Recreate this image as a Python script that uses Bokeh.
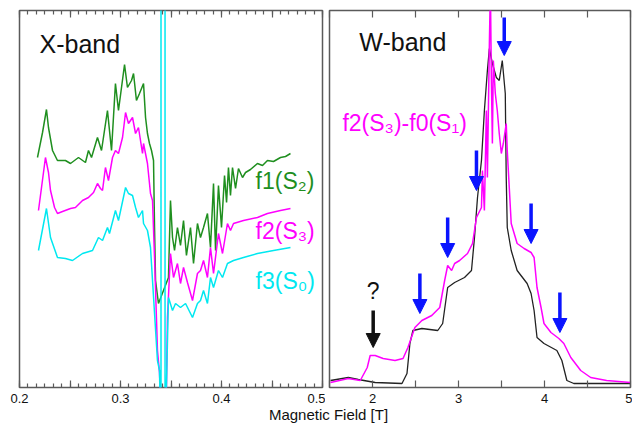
import numpy as np
from bokeh.plotting import figure
from bokeh.models import (LinearAxis, FixedTicker, Range1d, Label, Arrow,
                          NormalHead, ColumnDataSource, CustomJSTickFormatter)
from bokeh.layouts import row, column
from bokeh.embed import file_html
from bokeh.resources import INLINE

FONT = "Liberation Sans"
GREEN = "#1f8f1f"
MAGENTA = "#ff00ff"
CYAN = "#00e8f0"
BLUE = "#0a14ff"
FRAME = "#5a5a5a"

# ---------------- X-band data (field in T, signal in arbitrary units) -------------
xband_f1_field = [0.2178, 0.2228, 0.2267, 0.2287, 0.2327, 0.2376, 0.2455, 0.2505, 0.2584, 0.2653,
                  0.2683, 0.2713, 0.2772, 0.2812, 0.2871, 0.2911, 0.2950, 0.2980, 0.3040, 0.3069,
                  0.3109, 0.3129, 0.3158, 0.3188, 0.3228, 0.3248, 0.3267, 0.3287, 0.3307, 0.3327,
                  0.3337, 0.3347, 0.3376, 0.3475, 0.3495, 0.3515, 0.3535, 0.3564, 0.3594, 0.3624,
                  0.3653, 0.3693, 0.3723, 0.3762, 0.3792, 0.3822, 0.3861, 0.3891, 0.3921, 0.3941,
                  0.3970, 0.4000, 0.4030, 0.4050, 0.4069, 0.4089, 0.4109, 0.4139, 0.4168, 0.4208,
                  0.4238, 0.4287, 0.4356, 0.4406, 0.4455, 0.4515, 0.4584, 0.4634, 0.4683]
xband_f1_signal = [230, 255, 278, 260, 237, 227, 227, 224, 230, 225,
                   237, 230, 250, 237, 277, 237, 304, 277, 323, 300,
                   307, 314, 287, 294, 304, 270, 254, 244, 237, 227,
                   160, 107, 84, 110, 187, 150, 137, 160, 142, 167,
                   132, 160, 124, 164, 150, 160, 174, 140, 204, 137,
                   202, 160, 212, 185, 220, 192, 220, 199, 219, 210,
                   215, 218, 224, 222, 227, 226, 230, 231, 234]

xband_f2_field = [0.2188, 0.2218, 0.2257, 0.2287, 0.2307, 0.2347, 0.2376, 0.2426, 0.2505, 0.2554,
                  0.2624, 0.2683, 0.2733, 0.2772, 0.2802, 0.2822, 0.2851, 0.2881, 0.2921, 0.2950,
                  0.2980, 0.3020, 0.3050, 0.3079, 0.3119, 0.3149, 0.3178, 0.3218, 0.3228, 0.3267,
                  0.3297, 0.3317, 0.3337, 0.3366, 0.3386, 0.3400, 0.3452, 0.3465, 0.3495, 0.3525,
                  0.3564, 0.3594, 0.3624, 0.3663, 0.3713, 0.3762, 0.3792, 0.3822, 0.3861, 0.3891,
                  0.3921, 0.3970, 0.4010, 0.4059, 0.4089, 0.4119, 0.4218, 0.4356, 0.4455, 0.4584,
                  0.4683]
xband_f2_signal = [177, 200, 230, 215, 197, 180, 174, 176, 179, 180,
                   187, 190, 195, 204, 199, 197, 220, 207, 230, 237,
                   234, 250, 275, 264, 270, 254, 260, 234, 244, 224,
                   194, 187, 130, 37, 15, -20, -20, 70, 134, 110,
                   124, 104, 120, 105, 87, 114, 117, 127, 110, 140,
                   114, 154, 134, 164, 157, 164, 167, 170, 174, 177,
                   179]

xband_f3_field = [0.2188, 0.2267, 0.2307, 0.2376, 0.2455, 0.2525, 0.2624, 0.2723, 0.2782, 0.2822,
                  0.2871, 0.2891, 0.2950, 0.2980, 0.3050, 0.3079, 0.3119, 0.3149, 0.3178, 0.3218,
                  0.3228, 0.3267, 0.3297, 0.3317, 0.3366, 0.3386, 0.3401, 0.3401, 0.3441, 0.3441,
                  0.3475, 0.3515, 0.3545, 0.3594, 0.3644, 0.3713, 0.3762, 0.3792, 0.3822, 0.3861,
                  0.3891, 0.3921, 0.3970, 0.4010, 0.4059, 0.4119, 0.4218, 0.4356, 0.4515, 0.4683]
xband_f3_signal = [137, 179, 150, 130, 129, 127, 134, 137, 150, 147,
                   160, 154, 177, 167, 200, 194, 192, 180, 170, 177,
                   164, 157, 140, 107, 27, 17, -60, 440, 440, -60,
                   90, 77, 84, 80, 84, 70, 84, 87, 97, 84,
                   110, 100, 117, 110, 124, 127, 130, 134, 137, 140]

# ---------------- W-band data -------------
wband_sim_field = [1.512, 1.719, 1.835, 2.031, 2.343, 2.401, 2.435, 2.470, 2.574, 2.759,
                   2.816, 2.874, 2.955, 3.070, 3.151, 3.186, 3.221, 3.267, 3.301, 3.336,
                   3.359, 3.394, 3.440, 3.474, 3.509, 3.544, 3.555, 3.567, 3.613, 3.682,
                   3.798, 3.844, 3.879, 3.913, 3.994, 4.144, 4.202, 4.260, 4.341, 4.999]
wband_sim_signal = [7, 10, 8, 5, 4, 14, 44, 57, 59, 57,
                    64, 100, 105, 110, 117, 150, 190, 227, 277, 317,
                    339, 324, 310, 307, 327, 294, 210, 160, 137, 117,
                    104, 94, 77, 50, 44, 37, 27, 7, 4, 4]

wband_diff_field = [1.512, 1.719, 1.858, 1.939, 1.973, 2.031, 2.124, 2.262, 2.355, 2.412,
                    2.493, 2.574, 2.689, 2.782, 2.839, 2.874, 2.920, 2.955, 3.013, 3.105,
                    3.163, 3.209, 3.232, 3.267, 3.278, 3.301, 3.324, 3.336, 3.359, 3.371,
                    3.382, 3.394, 3.405, 3.428, 3.451, 3.474, 3.498, 3.521, 3.555, 3.567,
                    3.613, 3.682, 3.763, 3.844, 3.879, 3.913, 3.960, 3.994, 4.075, 4.167,
                    4.225, 4.306, 4.421, 4.537, 4.722, 4.999]
wband_diff_signal = [5, 9, 7, 20, 32, 32, 29, 27, 29, 40,
                     60, 67, 72, 80, 107, 122, 117, 124, 127, 134,
                     144, 170, 174, 180, 217, 177, 277, 210, 344, 400,
                     310, 244, 327, 294, 277, 254, 234, 244, 264, 237,
                     164, 144, 139, 135, 130, 100, 80, 64, 55, 49,
                     44, 30, 17, 10, 7, 5]

# arrows: field, tip height, tail height
blue_arrow_field = [2.551, 2.874, 3.209, 3.532, 3.844, 4.179]
blue_arrow_tip = [74, 130, 197, 332, 144, 55]
blue_arrow_tail = [114, 170, 237, 370, 184, 95]
black_arrow_field = [2.008]
black_arrow_tip = [40]
black_arrow_tail = [77]

xband_ticks = [0.2, 0.25, 0.3, 0.35, 0.4, 0.45, 0.5]
wband_ticks = [1.5, 2.0, 2.5, 3.0, 3.5, 4.0, 4.5, 5.0]

BLANK = CustomJSTickFormatter(code="return '';")


def style_axis(ax, labels=True):
    ax.axis_line_color = None
    ax.major_tick_in = 7
    ax.major_tick_out = 0
    ax.minor_tick_in = 4
    ax.minor_tick_out = 0
    ax.major_tick_line_color = FRAME
    ax.minor_tick_line_color = FRAME
    ax.major_tick_line_width = 1.2
    ax.minor_tick_line_width = 1.2
    if labels:
        ax.major_label_text_font = FONT
        ax.major_label_text_font_size = "13px"
        ax.major_label_text_color = "#111111"
        ax.major_label_standoff = 6
    else:
        ax.formatter = BLANK
        ax.major_label_text_font_size = "1px"
        ax.major_label_standoff = 0


def make_fig(width, xr, border_left, border_right):
    p = figure(width=width, height=407, x_range=Range1d(*xr), y_range=Range1d(0, 377),
               x_axis_type=None, y_axis_type=None, toolbar_location=None,
               output_backend="svg", min_border_left=border_left,
               min_border_right=border_right, min_border_top=10, min_border_bottom=20)
    p.outline_line_color = FRAME
    p.outline_line_width = 1.5
    p.grid.visible = False
    p.background_fill_color = "white"
    p.border_fill_color = "white"
    return p


# ---------------- left panel -------------
p1 = make_fig(325, (0.2, 0.5), 19, 3)
minor_x = list(np.round(np.arange(0.2, 0.5 + 1e-9, 0.05 / 6), 5))
fmt_x = CustomJSTickFormatter(code="const r = Math.round(tick*100); return (r % 10 === 0) ? tick.toFixed(1) : '';")
for loc, lab in (("below", True), ("above", False)):
    ax = LinearAxis(ticker=FixedTicker(ticks=xband_ticks, minor_ticks=minor_x))
    if lab:
        ax.formatter = fmt_x
    style_axis(ax, lab)
    p1.add_layout(ax, loc)

p1.line(xband_f1_field, xband_f1_signal, line_color=GREEN, line_width=1.5)
p1.line(xband_f2_field, xband_f2_signal, line_color=MAGENTA, line_width=1.5)
p1.line(xband_f3_field, xband_f3_signal, line_color=CYAN, line_width=1.5)

p1.add_layout(Label(x=0.2198, y=330, text="X-band", text_font=FONT, text_font_size="25px",
                    text_color="#111111"))
p1.add_layout(Label(x=0.4337, y=194, text="f1(S₂)", text_font=FONT, text_font_size="23px",
                    text_color=GREEN))
p1.add_layout(Label(x=0.4337, y=144, text="f2(S₃)", text_font=FONT, text_font_size="23px",
                    text_color=MAGENTA))
p1.add_layout(Label(x=0.4337, y=94, text="f3(S₀)", text_font=FONT, text_font_size="23px",
                    text_color=CYAN))

# ---------------- right panel -------------
p2 = make_fig(307, (1.5, 5.0), 4, 2)
fmt_w = CustomJSTickFormatter(code="return (Number.isInteger(tick) && tick > 1.5) ? tick.toFixed(0) : '';")
for loc, lab in (("below", True), ("above", False)):
    ax = LinearAxis(ticker=FixedTicker(ticks=wband_ticks, minor_ticks=[]))
    if lab:
        ax.formatter = fmt_w
    style_axis(ax, lab)
    p2.add_layout(ax, loc)

p2.line(wband_sim_field, wband_sim_signal, line_color="#222222", line_width=1.3)
p2.line(wband_diff_field, wband_diff_signal, line_color=MAGENTA, line_width=1.5)

blue_src = ColumnDataSource(dict(x=blue_arrow_field, y0=blue_arrow_tail, y1=blue_arrow_tip))
p2.add_layout(Arrow(source=blue_src, x_start="x", y_start="y0", x_end="x", y_end="y1",
                    line_color=BLUE, line_width=3.5,
                    end=NormalHead(size=14, fill_color=BLUE, line_color=BLUE, line_width=1)))
black_src = ColumnDataSource(dict(x=black_arrow_field, y0=black_arrow_tail, y1=black_arrow_tip))
p2.add_layout(Arrow(source=black_src, x_start="x", y_start="y0", x_end="x", y_end="y1",
                    line_color="#111111", line_width=3.5,
                    end=NormalHead(size=14, fill_color="#111111", line_color="#111111", line_width=1)))

p2.add_layout(Label(x=1.846, y=332, text="W-band", text_font=FONT, text_font_size="25px",
                    text_color="#111111"))
p2.add_layout(Label(x=1.650, y=252, text="f2(S₃)-f0(S₁)", text_font=FONT, text_font_size="23px",
                    text_color=MAGENTA))
p2.add_layout(Label(x=2.008, y=84, text="?", text_font=FONT, text_font_size="23px",
                    text_color="#111111", text_align="center"))

# ---------------- common x label -------------
p3 = figure(width=632, height=28, x_range=Range1d(0, 1), y_range=Range1d(0, 1),
            x_axis_type=None, y_axis_type=None, toolbar_location=None, output_backend="svg",
            min_border=0)
p3.outline_line_color = None
p3.grid.visible = False
p3.add_layout(Label(x=328, y=13, x_units="screen", y_units="screen", text="Magnetic Field [T]",
                    text_font=FONT, text_font_size="15px", text_color="#111111",
                    text_align="center"))

layout = column(row(p1, p2), p3)
open("out.html", "w").write(file_html(layout, INLINE))
